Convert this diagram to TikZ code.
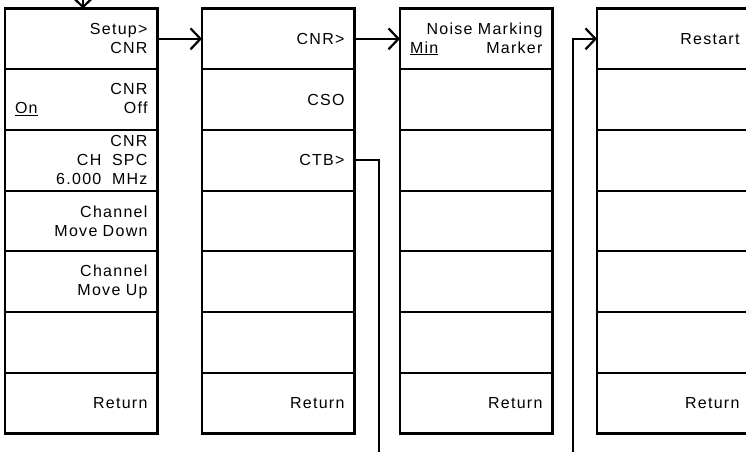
\documentclass[tikz,border=0pt]{standalone}
\usepackage{fontspec}
\setmainfont{Liberation Sans}[LetterSpace=8]
\usetikzlibrary{positioning,arrows.meta}

\tikzset{
  softkey/.style={draw,line width=2.2pt,minimum width=152.5pt,minimum height=60.7pt,
    inner xsep=10pt,inner ysep=0pt,outer sep=0pt,text width=132.5pt,align=right,
    font=\fontsize{16}{19}\selectfont},
  menulink/.style={line width=2.2pt,-{Straight Barb[length=10pt,width=21pt]}},
  menuline/.style={line width=2.2pt}
}

\begin{document}
\begin{tikzpicture}[x=1pt,y=1pt]
  \useasboundingbox (0,0) rectangle (746,451);
  \clip (0,0) rectangle (746,451);

  % column 1: setup menu
  \node[softkey] (c1r1) at (81.25,412.15) {Setup>\\CNR};
  \node[softkey,below=0pt of c1r1] (c1r2) {CNR\\\underline{On}\hfill Off};
  \node[softkey,below=0pt of c1r2] (c1r3) {CNR\\CH~~SPC\\6.000~~MHz};
  \node[softkey,below=0pt of c1r3] (c1r4) {Channel\\Move Down};
  \node[softkey,below=0pt of c1r4] (c1r5) {Channel\\Move Up};
  \node[softkey,below=0pt of c1r5] (c1r6) {};
  \node[softkey,below=0pt of c1r6] (c1r7) {Return};

  % column 2: CNR / CSO / CTB
  \node[softkey] (c2r1) at (278.25,412.15) {CNR>};
  \node[softkey,below=0pt of c2r1] (c2r2) {CSO};
  \node[softkey,below=0pt of c2r2] (c2r3) {CTB>};
  \node[softkey,below=0pt of c2r3] (c2r4) {};
  \node[softkey,below=0pt of c2r4] (c2r5) {};
  \node[softkey,below=0pt of c2r5] (c2r6) {};
  \node[softkey,below=0pt of c2r6] (c2r7) {Return};

  % column 3: noise marking
  \node[softkey] (c3r1) at (476.25,412.15) {Noise Marking\\\underline{Min}\hfill Marker};
  \node[softkey,below=0pt of c3r1] (c3r2) {};
  \node[softkey,below=0pt of c3r2] (c3r3) {};
  \node[softkey,below=0pt of c3r3] (c3r4) {};
  \node[softkey,below=0pt of c3r4] (c3r5) {};
  \node[softkey,below=0pt of c3r5] (c3r6) {};
  \node[softkey,below=0pt of c3r6] (c3r7) {Return};

  % column 4: restart
  \node[softkey] (c4r1) at (673.25,412.15) {Restart};
  \node[softkey,below=0pt of c4r1] (c4r2) {};
  \node[softkey,below=0pt of c4r2] (c4r3) {};
  \node[softkey,below=0pt of c4r3] (c4r4) {};
  \node[softkey,below=0pt of c4r4] (c4r5) {};
  \node[softkey,below=0pt of c4r5] (c4r6) {};
  \node[softkey,below=0pt of c4r6] (c4r7) {Return};

  % links
  \coordinate (entry) at (83,465);
  \coordinate (ctbdown) at (379,-5);
  \coordinate (backup) at (573,-5);
  \draw[menulink] (entry) -- (entry |- c1r1.north);
  \draw[menulink] (c1r1.east) -- (c2r1.west);
  \draw[menulink] (c2r1.east) -- (c3r1.west);
  \draw[menuline] (c2r3.east) -| (ctbdown);
  \draw[menulink] (backup) |- (c4r1.west);
\end{tikzpicture}
\end{document}
